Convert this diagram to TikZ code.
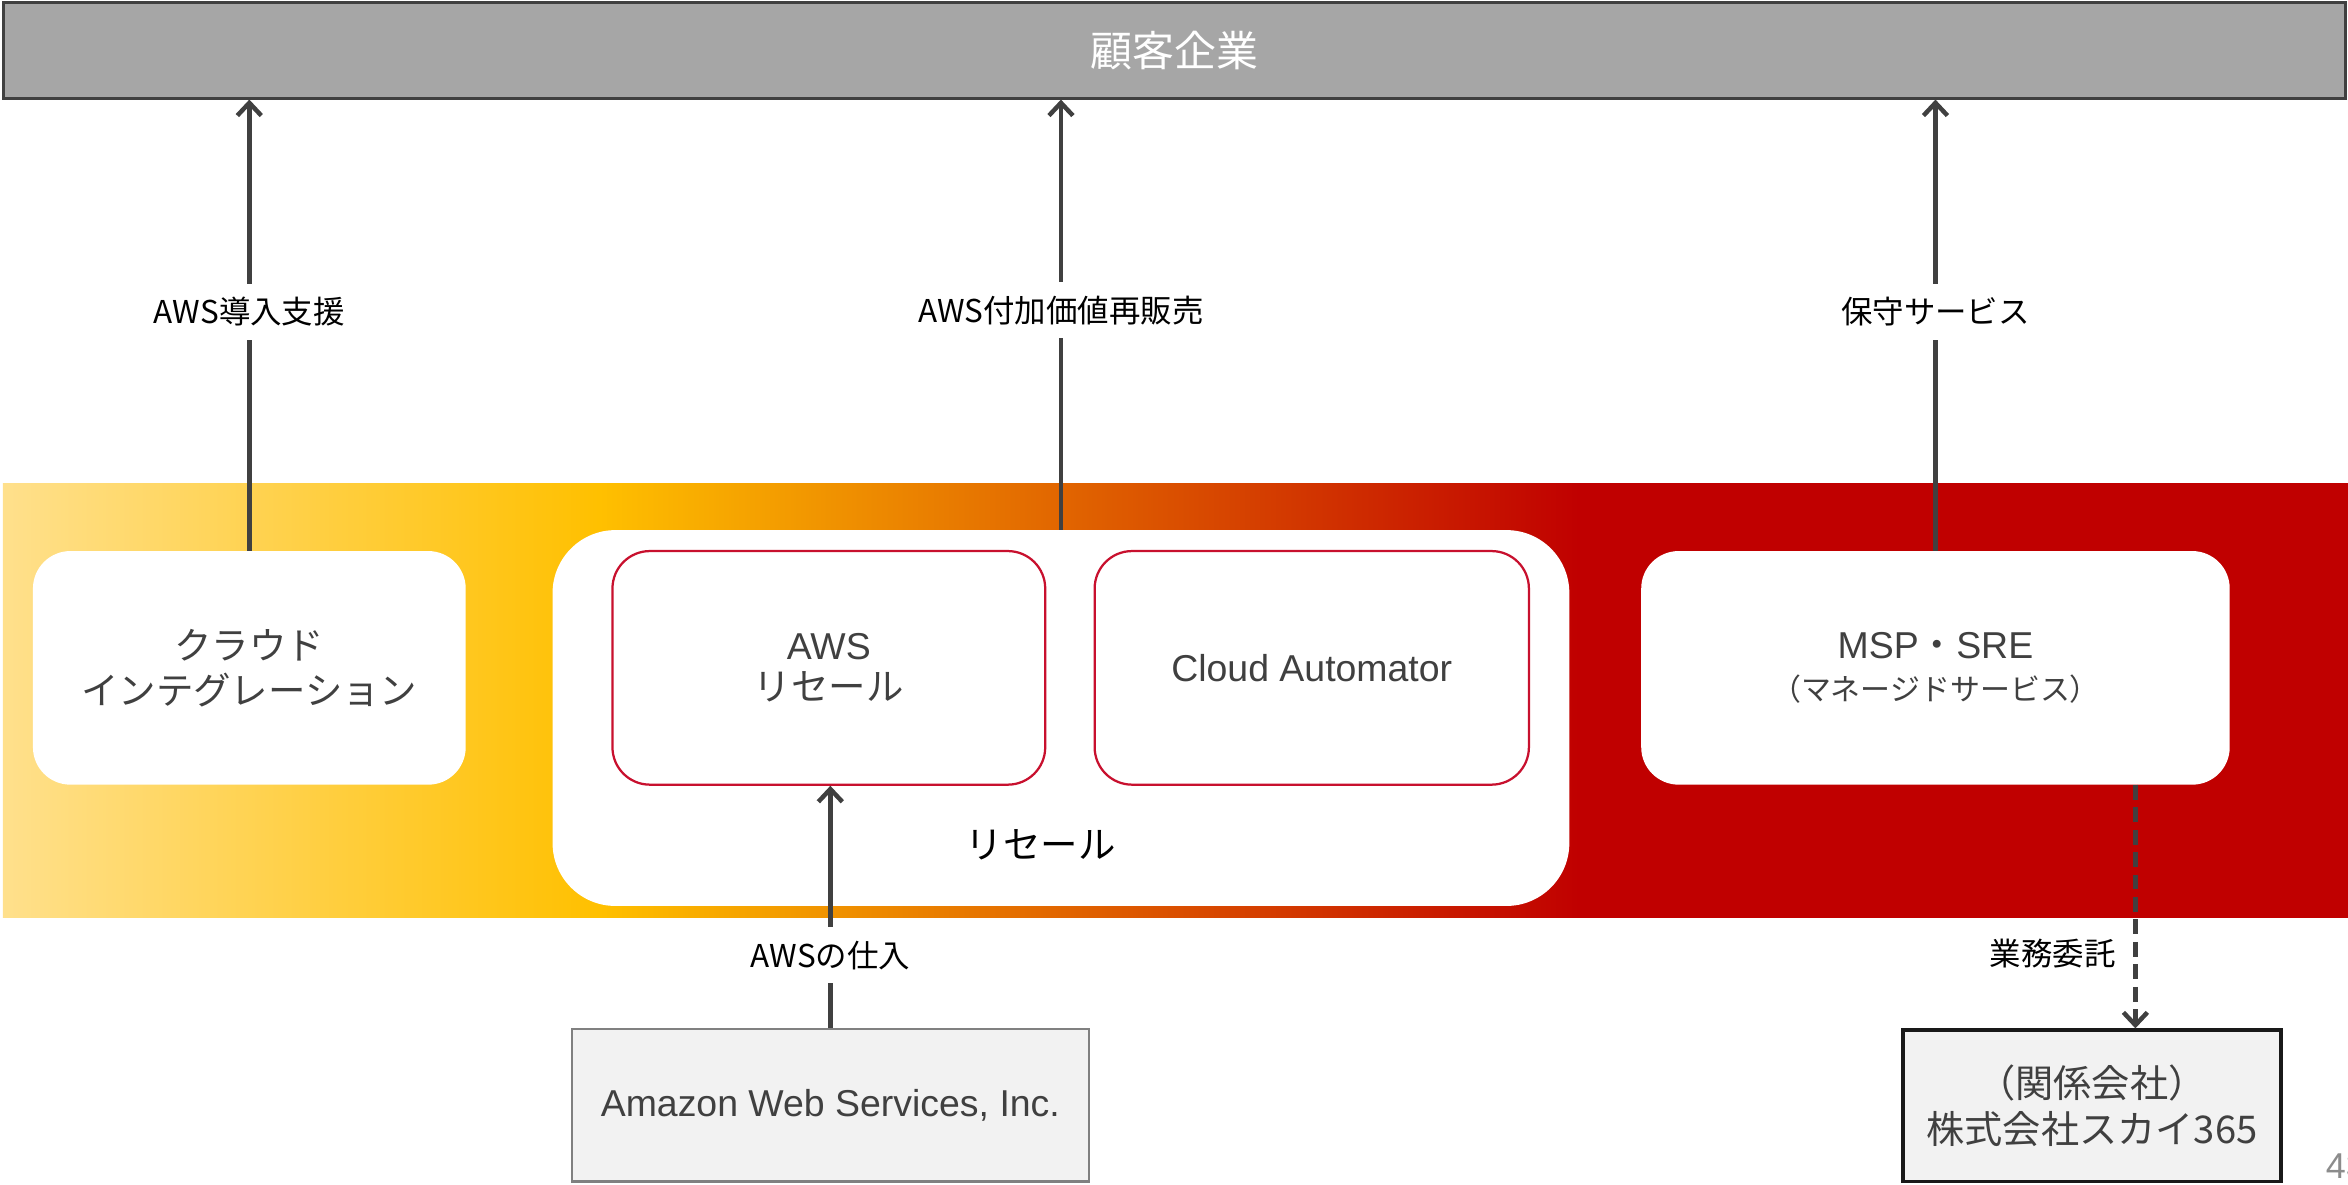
\documentclass[tikz,border=0pt]{standalone}
\usepackage{fontspec}
\setmainfont{Liberation Sans}
\newfontfamily\jp{Noto Sans CJK JP}
\usetikzlibrary{arrows.meta}
\definecolor{txtgray}{HTML}{404040}
\definecolor{arrgray}{HTML}{404040}
\definecolor{bargray}{HTML}{A6A6A6}
\definecolor{boxred}{HTML}{C8102E}
\definecolor{lightgold}{HTML}{FFE08C}
\definecolor{gold}{HTML}{FFC000}
\definecolor{darkred}{HTML}{C00000}
\definecolor{boxfill}{HTML}{F2F2F2}
\definecolor{pagegray}{HTML}{8C8C8C}
\pgfdeclarehorizontalshading{bandshade}{100bp}{color(0bp)=(lightgold); color(25bp)=(lightgold); color(37.7bp)=(gold); color(58.6bp)=(darkred); color(100bp)=(darkred)}
\tikzset{
  wbox/.style={fill=white, rounded corners=25pt, inner sep=0pt, align=center, text=txtgray, font=\fontsize{25}{30}\selectfont},
  redbox/.style={wbox, draw=boxred, line width=1.5pt},
  gbox/.style={fill=boxfill, inner sep=0pt, align=center, text=txtgray, font=\fontsize{25}{31}\selectfont},
  arr/.style={draw=arrgray, line width=3pt, -{Straight Barb[length=8.5pt,width=16pt]}},
  lbl/.style={fill=white, text=black, inner xsep=4pt, inner ysep=9pt, font=\jp\fontsize{21}{25}\selectfont},
}
\begin{document}
\begin{tikzpicture}[x=1pt,y=-1pt]
\useasboundingbox (0,0) rectangle (1568,791);
% band
\shade[shading=bandshade] (2,323) rectangle (1568,613);
% top bar
\node[fill=bargray, draw=txtgray, line width=2pt, minimum width=1564pt, minimum height=64pt, inner sep=0pt, text=white, font=\jp\fontsize{28}{32}\selectfont] (top) at (784.5,33.5) {\raisebox{2pt}{顧客企業}};
% boxes
\node[wbox, minimum width=289pt, minimum height=156pt] (cloud) at (166.5,446) {{\jp クラウド}\\{\jp インテグレーション}};
\node[fill=white, rounded corners=42pt, minimum width=679pt, minimum height=251pt, inner sep=0pt] (resell) at (708.5,479.5) {};
\node[text=black, font=\jp\fontsize{25}{30}\selectfont, inner sep=0pt] (resellbl) at (695,564) {リセール};
\node[redbox, minimum width=289pt, minimum height=156pt, font=\fontsize{25}{27}\selectfont] (aws) at (553.5,446) {AWS\\{\jp リセール}};
\node[redbox, minimum width=290pt, minimum height=156pt] (ca) at (876,446) {Cloud Automator};
\node[wbox, minimum width=393pt, minimum height=156pt, font=\fontsize{25}{28}\selectfont] (msp) at (1292.5,446) {MSP{\jp ・}SRE\\{\jp\fontsize{20}{26}\selectfont （マネージドサービス）}};
\node[gbox, draw=gray, line width=1.5pt, minimum width=345pt, minimum height=102pt] (amazon) at (554.5,738) {Amazon Web Services, Inc.};
\node[gbox, draw=black!90, line width=2.5pt, minimum width=252pt, minimum height=101pt, font=\jp\fontsize{25.5}{31}\selectfont] (sky) at (1397,738.5) {（関係会社）\\株式会社スカイ365};
% connectors
\draw[arr] (cloud.north) -- node[lbl, pos=0.53] (l1) {AWS導入支援} (cloud.north |- top.south);
\draw[arr] (resell.north) -- node[lbl, pos=0.51] (l2) {AWS付加価値再販売} (resell.north |- top.south);
\draw[arr] (msp.north) -- node[lbl, pos=0.53] (l3) {保守サービス} (msp.north |- top.south);
\draw[arr] (amazon.north) -- node[lbl, pos=0.3] (l4) {AWSの仕入} (amazon.north |- aws.south);
\coordinate (dtop) at (1426,524);
\draw[arr, dash pattern=on 10pt off 5pt] (dtop) -- (dtop |- sky.north);
\node[text=black, font=\jp\fontsize{21}{25}\selectfont, anchor=east, inner sep=0pt] (l5) at (1413,637) {業務委託};
\node[text=pagegray, font=\fontsize{24}{26}\selectfont, anchor=west, inner sep=0pt] (page) at (1553,779) {43};
\end{tikzpicture}
\end{document}
